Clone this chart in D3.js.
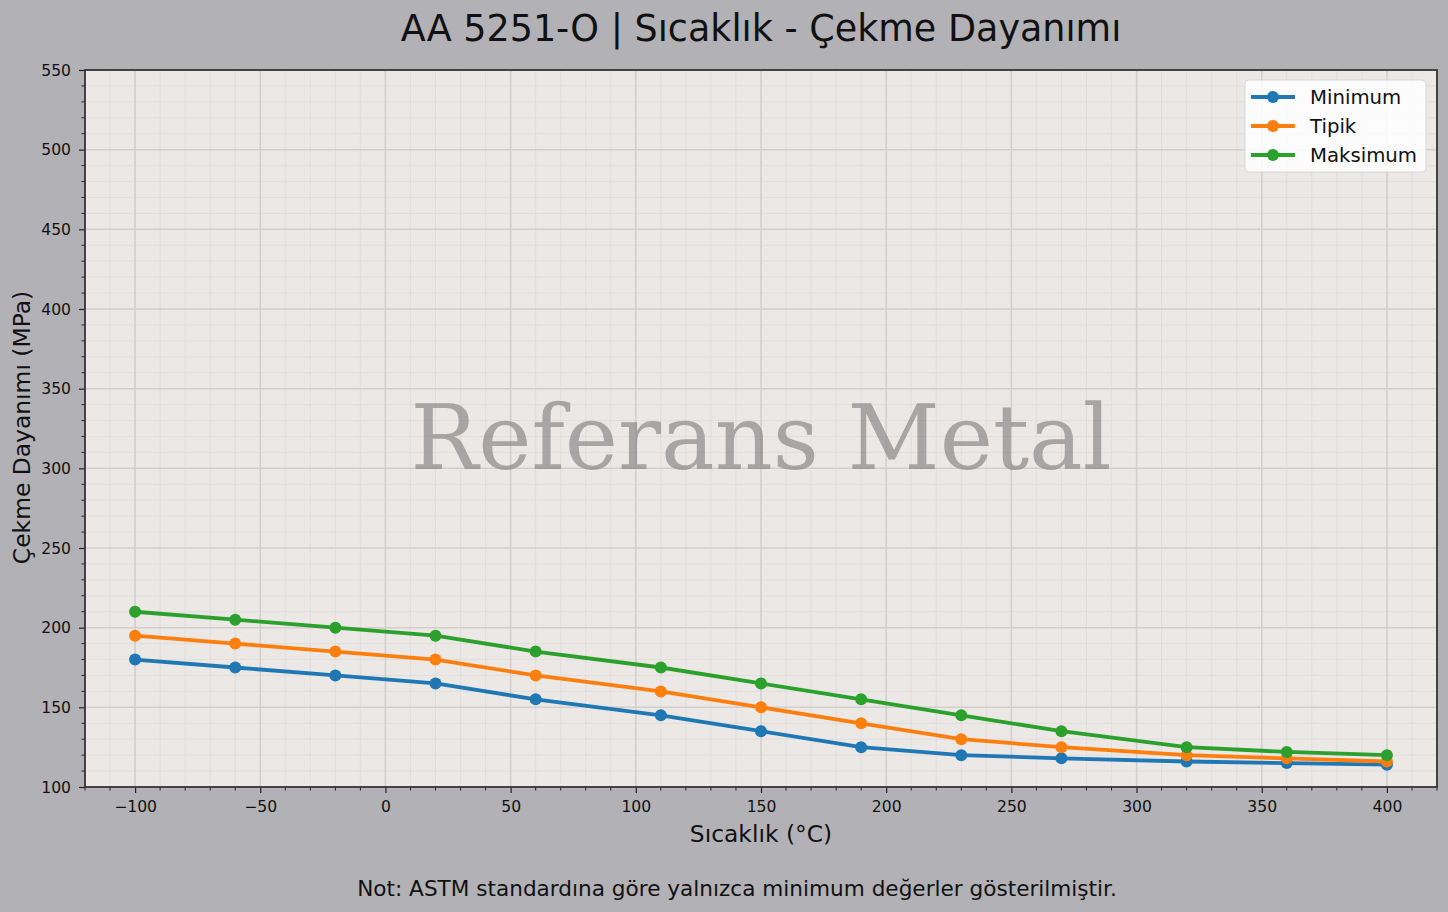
<!DOCTYPE html>
<html><head><meta charset="utf-8">
<script src="https://cdn.jsdelivr.net/npm/d3@7"></script>
<style>html,body{margin:0;padding:0;background:#b2b1b6;}svg{display:block;}</style>
</head><body><div id="chart"></div>
<script>
const temps = [-100, -60, -20, 20, 60, 110, 150, 190, 230, 270, 320, 360, 400];
const minVals = [180, 175, 170, 165, 155, 145, 135, 125, 120, 118, 116, 115, 114];
const typVals = [195, 190, 185, 180, 170, 160, 150, 140, 130, 125, 120, 118, 116];
const maxVals = [210, 205, 200, 195, 185, 175, 165, 155, 145, 135, 125, 122, 120];
const seriesNames = ["Minimum", "Tipik", "Maksimum"];
const seriesColors = ["#1f77b4", "#ff7f0e", "#2ca02c"];
const xTicks = [-100, -50, 0, 50, 100, 150, 200, 250, 300, 350, 400];
const yTicks = [100, 150, 200, 250, 300, 350, 400, 450, 500, 550];

const W = 1448, H = 912;
const m = {l: 85, r: 11, t: 70, b: 125};
const svg = d3.select("#chart").append("svg").attr("width", W).attr("height", H);
svg.append("rect").attr("width", W).attr("height", H).attr("fill", "#b2b1b6");

const x = d3.scaleLinear().domain([-120, 420]).range([m.l, W - m.r]);
const y = d3.scaleLinear().domain([100, 550]).range([H - m.b, m.t]);
const pw = W - m.r - m.l, ph = H - m.b - m.t;

const g = svg.append("g");
g.append("rect").attr("x", m.l).attr("y", m.t).attr("width", pw).attr("height", ph).attr("fill", "#ebe8e6");

const font = "DejaVu Sans, sans-serif";
const xMinor = d3.range(-120, 421, 10);
const yMinor = d3.range(100, 551, 10);
// minor grid
g.append("g").selectAll("line").data(xMinor).join("line")
  .attr("x1", d => x(d)).attr("x2", d => x(d)).attr("y1", m.t).attr("y2", m.t + ph)
  .attr("stroke", "#dedad9").attr("stroke-width", 0.8);
g.append("g").selectAll("line").data(yMinor).join("line")
  .attr("y1", d => y(d)).attr("y2", d => y(d)).attr("x1", m.l).attr("x2", m.l + pw)
  .attr("stroke", "#dedad9").attr("stroke-width", 0.8);
// major grid
g.append("g").selectAll("line").data(xTicks).join("line")
  .attr("x1", d => x(d)).attr("x2", d => x(d)).attr("y1", m.t).attr("y2", m.t + ph)
  .attr("stroke", "#d3cfce").attr("stroke-width", 1.5);
g.append("g").selectAll("line").data(yTicks).join("line")
  .attr("y1", d => y(d)).attr("y2", d => y(d)).attr("x1", m.l).attr("x2", m.l + pw)
  .attr("stroke", "#d3cfce").attr("stroke-width", 1.5);

// watermark
g.append("text").attr("x", m.l + pw / 2).attr("y", 469)
  .attr("text-anchor", "middle")
  .attr("font-family", "DejaVu Serif, serif").attr("font-size", 90)
  .attr("fill", "#808080").attr("fill-opacity", 0.64).text("Referans Metal");

// series
const allSeries = [minVals, typVals, maxVals];
const line = d3.line().x((d, i) => x(temps[i])).y(d => y(d));
allSeries.forEach((vals, si) => {
  g.append("path").datum(vals).attr("d", line).attr("fill", "none")
    .attr("stroke", seriesColors[si]).attr("stroke-width", 3.8).attr("stroke-linejoin", "round");
  g.append("g").selectAll("circle").data(vals).join("circle")
    .attr("cx", (d, i) => x(temps[i])).attr("cy", d => y(d)).attr("r", 6)
    .attr("fill", seriesColors[si]);
});

// axes
const xAxis = d3.axisBottom(x).tickValues(xTicks).tickSize(6).tickPadding(8)
  .tickFormat(d => d < 0 ? "\u2212" + Math.abs(d) : d);
const gx = svg.append("g").attr("transform", `translate(0,${m.t + ph})`).call(xAxis);
gx.attr("font-size", null).attr("font-family", null);
gx.select(".domain").remove();
gx.selectAll(".tick line").attr("stroke", "#222").attr("stroke-width", 1.2);
gx.selectAll("text").attr("font-family", font).attr("font-size", 15.6).attr("fill", "#111");
svg.append("g").selectAll("line").data(xMinor.filter(d => !xTicks.includes(d))).join("line")
  .attr("x1", d => x(d)).attr("x2", d => x(d)).attr("y1", m.t + ph).attr("y2", m.t + ph + 3.5)
  .attr("stroke", "#222").attr("stroke-width", 1);

const yAxis = d3.axisLeft(y).tickValues(yTicks).tickSize(6).tickPadding(8);
const gy = svg.append("g").attr("transform", `translate(${m.l},0)`).call(yAxis);
gy.attr("font-size", null).attr("font-family", null);
gy.select(".domain").remove();
gy.selectAll(".tick line").attr("stroke", "#222").attr("stroke-width", 1.2);
gy.selectAll("text").attr("font-family", font).attr("font-size", 15.6).attr("fill", "#111");
svg.append("g").selectAll("line").data(yMinor.filter(d => !yTicks.includes(d))).join("line")
  .attr("y1", d => y(d)).attr("y2", d => y(d)).attr("x1", m.l).attr("x2", m.l - 3.5)
  .attr("stroke", "#222").attr("stroke-width", 1);

// spines
svg.append("rect").attr("x", m.l).attr("y", m.t).attr("width", pw).attr("height", ph)
  .attr("fill", "none").attr("stroke", "#333").attr("stroke-width", 1.8);

// title & labels
svg.append("text").attr("x", m.l + pw / 2).attr("y", 41).attr("text-anchor", "middle")
  .attr("font-family", font).attr("font-size", 36.5).attr("fill", "#111")
  .text("AA 5251-O | Sıcaklık - Çekme Dayanımı");
svg.append("text").attr("x", m.l + pw / 2).attr("y", 842).attr("text-anchor", "middle")
  .attr("font-family", font).attr("font-size", 23.4).attr("fill", "#111")
  .text("Sıcaklık (°C)");
svg.append("text").attr("transform", `translate(30,${m.t + ph / 2 - 1}) rotate(-90)`)
  .attr("text-anchor", "middle").attr("font-family", font).attr("font-size", 23.4).attr("fill", "#111")
  .text("Çekme Dayanımı (MPa)");
svg.append("text").attr("x", 737).attr("y", 896).attr("text-anchor", "middle")
  .attr("font-family", font).attr("font-size", 21.6).attr("fill", "#111")
  .text("Not: ASTM standardına göre yalnızca minimum değerler gösterilmiştir.");

// legend
const lg = svg.append("g").attr("transform", "translate(1245,80)");
lg.append("rect").attr("width", 181).attr("height", 92).attr("rx", 4)
  .attr("fill", "#ffffff").attr("fill-opacity", 0.85).attr("stroke", "#d8d8d8").attr("stroke-width", 1);
seriesNames.forEach((name, i) => {
  const yy = 17 + i * 29;
  lg.append("line").attr("x1", 6).attr("x2", 50).attr("y1", yy).attr("y2", yy)
    .attr("stroke", seriesColors[i]).attr("stroke-width", 3.8);
  lg.append("circle").attr("cx", 28).attr("cy", yy).attr("r", 6).attr("fill", seriesColors[i]);
  lg.append("text").attr("x", 65).attr("y", yy + 7).attr("font-family", font).attr("font-size", 19.7)
    .attr("fill", "#111").text(name);
});
</script></body></html>
